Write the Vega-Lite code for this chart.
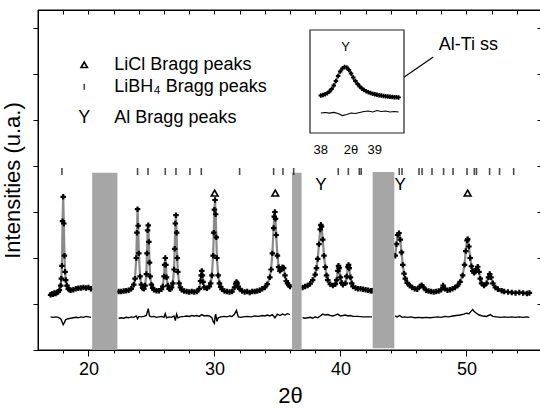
{
"$schema":"https://vega.github.io/schema/vega-lite/v6.json",
"width":504,"height":340,
"autosize":{"type":"none"},
"padding":{"left":38,"top":10,"right":0,"bottom":58},
"background":"white",
"config":{"view":{"stroke":"black","strokeWidth":1},"font":"Liberation Sans",
"axis":{"domainColor":"black","tickColor":"black","labelColor":"black","titleColor":"black","grid":false,"labelFont":"Liberation Sans","titleFont":"Liberation Sans","titleFontWeight":"normal","tickWidth":1}},
"datasets":{
"obs":[
{"x":17.0,"y":1.20,"g":1},{"x":17.1,"y":1.22,"g":1},{"x":17.2,"y":1.21,"g":1},{"x":17.3,"y":1.24,"g":1},{"x":17.4,"y":1.23,"g":1},{"x":17.5,"y":1.25,"g":1},{"x":17.6,"y":1.26,"g":1},{"x":17.7,"y":1.30,"g":1},{"x":17.8,"y":1.40,"g":1},{"x":17.85,"y":1.55,"g":1},{"x":17.9,"y":1.83,"g":1},{"x":17.95,"y":2.80,"g":1},{"x":18.0,"y":3.33,"g":1},{"x":18.05,"y":2.75,"g":1},{"x":18.1,"y":2.05,"g":1},{"x":18.15,"y":1.70,"g":1},{"x":18.2,"y":1.52,"g":1},{"x":18.3,"y":1.40,"g":1},{"x":18.4,"y":1.33,"g":1},{"x":18.5,"y":1.31,"g":1},{"x":18.6,"y":1.30,"g":1},{"x":18.8,"y":1.31,"g":1},{"x":19.0,"y":1.33,"g":1},{"x":19.2,"y":1.34,"g":1},{"x":19.4,"y":1.35,"g":1},{"x":19.6,"y":1.36,"g":1},{"x":19.8,"y":1.35,"g":1},{"x":20.0,"y":1.36,"g":1},{"x":20.2,"y":1.33,"g":1},
{"x":22.4,"y":1.27,"g":2},{"x":22.6,"y":1.27,"g":2},{"x":22.8,"y":1.28,"g":2},{"x":23.0,"y":1.29,"g":2},{"x":23.2,"y":1.30,"g":2},{"x":23.4,"y":1.33,"g":2},{"x":23.6,"y":1.42,"g":2},{"x":23.7,"y":1.55,"g":2},{"x":23.8,"y":2.00,"g":2},{"x":23.85,"y":2.55,"g":2},{"x":23.9,"y":3.06,"g":2},{"x":23.95,"y":2.70,"g":2},{"x":24.0,"y":2.10,"g":2},{"x":24.1,"y":1.60,"g":2},{"x":24.2,"y":1.42,"g":2},{"x":24.3,"y":1.35,"g":2},{"x":24.4,"y":1.33,"g":2},{"x":24.5,"y":1.40,"g":2},{"x":24.6,"y":1.65,"g":2},{"x":24.65,"y":2.10,"g":2},{"x":24.7,"y":2.60,"g":2},{"x":24.75,"y":2.71,"g":2},{"x":24.8,"y":2.35,"g":2},{"x":24.85,"y":1.90,"g":2},{"x":24.9,"y":1.60,"g":2},{"x":25.0,"y":1.42,"g":2},{"x":25.1,"y":1.35,"g":2},{"x":25.2,"y":1.31,"g":2},{"x":25.4,"y":1.29,"g":2},{"x":25.6,"y":1.29,"g":2},{"x":25.8,"y":1.32,"g":2},{"x":25.9,"y":1.38,"g":2},{"x":26.0,"y":1.60,"g":2},{"x":26.05,"y":1.85,"g":2},{"x":26.1,"y":2.00,"g":2},{"x":26.15,"y":1.85,"g":2},{"x":26.2,"y":1.58,"g":2},{"x":26.3,"y":1.40,"g":2},{"x":26.4,"y":1.33,"g":2},{"x":26.5,"y":1.32,"g":2},{"x":26.6,"y":1.36,"g":2},{"x":26.7,"y":1.45,"g":2},{"x":26.8,"y":1.75,"g":2},{"x":26.85,"y":2.20,"g":2},{"x":26.9,"y":2.75,"g":2},{"x":26.95,"y":2.93,"g":2},{"x":27.0,"y":2.55,"g":2},{"x":27.05,"y":2.00,"g":2},{"x":27.1,"y":1.70,"g":2},{"x":27.2,"y":1.45,"g":2},{"x":27.3,"y":1.36,"g":2},{"x":27.4,"y":1.31,"g":2},{"x":27.6,"y":1.28,"g":2},{"x":27.8,"y":1.27,"g":2},{"x":28.0,"y":1.26,"g":2},{"x":28.2,"y":1.27,"g":2},{"x":28.4,"y":1.26,"g":2},{"x":28.6,"y":1.27,"g":2},{"x":28.8,"y":1.33,"g":2},{"x":28.9,"y":1.50,"g":2},{"x":28.95,"y":1.62,"g":2},{"x":29.0,"y":1.72,"g":2},{"x":29.05,"y":1.62,"g":2},{"x":29.1,"y":1.48,"g":2},{"x":29.2,"y":1.36,"g":2},{"x":29.4,"y":1.34,"g":2},{"x":29.6,"y":1.38,"g":2},{"x":29.7,"y":1.45,"g":2},{"x":29.8,"y":1.62,"g":2},{"x":29.9,"y":2.05,"g":2},{"x":29.95,"y":2.55,"g":2},{"x":30.0,"y":3.05,"g":2},{"x":30.05,"y":3.26,"g":2},{"x":30.1,"y":2.95,"g":2},{"x":30.15,"y":2.45,"g":2},{"x":30.2,"y":2.00,"g":2},{"x":30.3,"y":1.62,"g":2},{"x":30.4,"y":1.45,"g":2},{"x":30.5,"y":1.37,"g":2},{"x":30.6,"y":1.32,"g":2},{"x":30.8,"y":1.28,"g":2},{"x":31.0,"y":1.27,"g":2},{"x":31.2,"y":1.26,"g":2},{"x":31.4,"y":1.27,"g":2},{"x":31.6,"y":1.36,"g":2},{"x":31.7,"y":1.44,"g":2},{"x":31.75,"y":1.48,"g":2},{"x":31.8,"y":1.45,"g":2},{"x":31.9,"y":1.38,"g":2},{"x":32.0,"y":1.33,"g":2},{"x":32.2,"y":1.28,"g":2},{"x":32.4,"y":1.26,"g":2},{"x":32.6,"y":1.27,"g":2},{"x":32.8,"y":1.25,"g":2},{"x":33.0,"y":1.27,"g":2},{"x":33.2,"y":1.27,"g":2},{"x":33.4,"y":1.28,"g":2},{"x":33.6,"y":1.30,"g":2},{"x":33.8,"y":1.33,"g":2},{"x":34.0,"y":1.36,"g":2},{"x":34.2,"y":1.43,"g":2},{"x":34.4,"y":1.58,"g":2},{"x":34.5,"y":1.75,"g":2},{"x":34.6,"y":2.10,"g":2},{"x":34.7,"y":2.65,"g":2},{"x":34.75,"y":2.90,"g":2},{"x":34.8,"y":3.00,"g":2},{"x":34.85,"y":2.85,"g":2},{"x":34.9,"y":2.50,"g":2},{"x":35.0,"y":2.05,"g":2},{"x":35.1,"y":1.80,"g":2},{"x":35.2,"y":1.72,"g":2},{"x":35.3,"y":1.75,"g":2},{"x":35.4,"y":1.80,"g":2},{"x":35.5,"y":1.78,"g":2},{"x":35.6,"y":1.62,"g":2},{"x":35.7,"y":1.50,"g":2},{"x":35.8,"y":1.45,"g":2},{"x":35.9,"y":1.41,"g":2},{"x":36.0,"y":1.38,"g":2},
{"x":37.0,"y":1.36,"g":3},{"x":37.2,"y":1.38,"g":3},{"x":37.4,"y":1.40,"g":3},{"x":37.6,"y":1.44,"g":3},{"x":37.8,"y":1.52,"g":3},{"x":38.0,"y":1.64,"g":3},{"x":38.1,"y":1.78,"g":3},{"x":38.2,"y":1.98,"g":3},{"x":38.3,"y":2.30,"g":3},{"x":38.4,"y":2.62,"g":3},{"x":38.45,"y":2.72,"g":3},{"x":38.5,"y":2.68,"g":3},{"x":38.6,"y":2.40,"g":3},{"x":38.7,"y":2.05,"g":3},{"x":38.8,"y":1.80,"g":3},{"x":38.9,"y":1.62,"g":3},{"x":39.0,"y":1.52,"g":3},{"x":39.2,"y":1.43,"g":3},{"x":39.4,"y":1.40,"g":3},{"x":39.6,"y":1.43,"g":3},{"x":39.7,"y":1.52,"g":3},{"x":39.8,"y":1.72,"g":3},{"x":39.85,"y":1.83,"g":3},{"x":39.9,"y":1.78,"g":3},{"x":40.0,"y":1.58,"g":3},{"x":40.1,"y":1.46,"g":3},{"x":40.2,"y":1.42,"g":3},{"x":40.4,"y":1.45,"g":3},{"x":40.5,"y":1.60,"g":3},{"x":40.6,"y":1.80,"g":3},{"x":40.65,"y":1.85,"g":3},{"x":40.7,"y":1.78,"g":3},{"x":40.8,"y":1.58,"g":3},{"x":40.9,"y":1.45,"g":3},{"x":41.0,"y":1.38,"g":3},{"x":41.2,"y":1.35,"g":3},{"x":41.4,"y":1.33,"g":3},{"x":41.6,"y":1.33,"g":3},{"x":41.8,"y":1.32,"g":3},{"x":42.0,"y":1.31,"g":3},{"x":42.2,"y":1.30,"g":3},{"x":42.4,"y":1.29,"g":3},{"x":42.5,"y":1.29,"g":3},
{"x":44.35,"y":2.05,"g":4},{"x":44.45,"y":2.30,"g":4},{"x":44.55,"y":2.50,"g":4},{"x":44.65,"y":2.54,"g":4},{"x":44.75,"y":2.40,"g":4},{"x":44.85,"y":2.12,"g":4},{"x":44.95,"y":1.85,"g":4},{"x":45.05,"y":1.66,"g":4},{"x":45.15,"y":1.55,"g":4},{"x":45.3,"y":1.46,"g":4},{"x":45.5,"y":1.40,"g":4},{"x":45.7,"y":1.36,"g":4},{"x":45.9,"y":1.33,"g":4},{"x":46.1,"y":1.32,"g":4},{"x":46.3,"y":1.38,"g":4},{"x":46.45,"y":1.41,"g":4},{"x":46.6,"y":1.36,"g":4},{"x":46.8,"y":1.30,"g":4},{"x":47.0,"y":1.28,"g":4},{"x":47.2,"y":1.27,"g":4},{"x":47.4,"y":1.26,"g":4},{"x":47.6,"y":1.27,"g":4},{"x":47.8,"y":1.28,"g":4},{"x":48.0,"y":1.31,"g":4},{"x":48.15,"y":1.40,"g":4},{"x":48.3,"y":1.33,"g":4},{"x":48.5,"y":1.30,"g":4},{"x":48.7,"y":1.31,"g":4},{"x":48.9,"y":1.33,"g":4},{"x":49.1,"y":1.36,"g":4},{"x":49.3,"y":1.40,"g":4},{"x":49.5,"y":1.48,"g":4},{"x":49.7,"y":1.62,"g":4},{"x":49.85,"y":1.85,"g":4},{"x":49.95,"y":2.15,"g":4},{"x":50.05,"y":2.38,"g":4},{"x":50.1,"y":2.41,"g":4},{"x":50.2,"y":2.25,"g":4},{"x":50.3,"y":2.00,"g":4},{"x":50.4,"y":1.82,"g":4},{"x":50.5,"y":1.72,"g":4},{"x":50.6,"y":1.68,"g":4},{"x":50.7,"y":1.70,"g":4},{"x":50.8,"y":1.76,"g":4},{"x":50.9,"y":1.81,"g":4},{"x":51.0,"y":1.70,"g":4},{"x":51.1,"y":1.55,"g":4},{"x":51.2,"y":1.45,"g":4},{"x":51.4,"y":1.40,"g":4},{"x":51.6,"y":1.45,"g":4},{"x":51.75,"y":1.58,"g":4},{"x":51.85,"y":1.65,"g":4},{"x":51.95,"y":1.58,"g":4},{"x":52.1,"y":1.45,"g":4},{"x":52.3,"y":1.36,"g":4},{"x":52.5,"y":1.32,"g":4},{"x":52.8,"y":1.29,"g":4},{"x":53.0,"y":1.27,"g":4},{"x":53.3,"y":1.26,"g":4},{"x":53.6,"y":1.25,"g":4},{"x":53.9,"y":1.24,"g":4},{"x":54.2,"y":1.25,"g":4},{"x":54.5,"y":1.24,"g":4},{"x":54.8,"y":1.23,"g":4},{"x":55.0,"y":1.24,"g":4}
],
"diff":[
{"x":17.0,"y":0.72,"g":1},{"x":17.2,"y":0.71,"g":1},{"x":17.4,"y":0.72,"g":1},{"x":17.6,"y":0.71,"g":1},{"x":17.8,"y":0.68,"g":1},{"x":17.9,"y":0.62,"g":1},{"x":18.0,"y":0.55,"g":1},{"x":18.1,"y":0.60,"g":1},{"x":18.2,"y":0.66,"g":1},{"x":18.4,"y":0.68,"g":1},{"x":18.6,"y":0.69,"g":1},{"x":18.8,"y":0.70,"g":1},{"x":19.0,"y":0.71,"g":1},{"x":19.2,"y":0.70,"g":1},{"x":19.4,"y":0.72,"g":1},{"x":19.6,"y":0.71,"g":1},{"x":19.8,"y":0.73,"g":1},{"x":20.0,"y":0.72,"g":1},{"x":20.2,"y":0.71,"g":1},
{"x":22.4,"y":0.69,"g":2},{"x":22.6,"y":0.70,"g":2},{"x":22.8,"y":0.69,"g":2},{"x":23.0,"y":0.71,"g":2},{"x":23.2,"y":0.70,"g":2},{"x":23.4,"y":0.72,"g":2},{"x":23.6,"y":0.71,"g":2},{"x":23.8,"y":0.74,"g":2},{"x":23.9,"y":0.68,"g":2},{"x":24.0,"y":0.73,"g":2},{"x":24.2,"y":0.72,"g":2},{"x":24.4,"y":0.73,"g":2},{"x":24.6,"y":0.75,"g":2},{"x":24.75,"y":0.90,"g":2},{"x":24.85,"y":0.74,"g":2},{"x":25.0,"y":0.72,"g":2},{"x":25.2,"y":0.73,"g":2},{"x":25.4,"y":0.71,"g":2},{"x":25.6,"y":0.72,"g":2},{"x":25.8,"y":0.73,"g":2},{"x":26.0,"y":0.71,"g":2},{"x":26.1,"y":0.79,"g":2},{"x":26.2,"y":0.70,"g":2},{"x":26.4,"y":0.72,"g":2},{"x":26.6,"y":0.71,"g":2},{"x":26.8,"y":0.74,"g":2},{"x":26.9,"y":0.64,"g":2},{"x":27.0,"y":0.78,"g":2},{"x":27.1,"y":0.70,"g":2},{"x":27.3,"y":0.72,"g":2},{"x":27.6,"y":0.73,"g":2},{"x":27.8,"y":0.74,"g":2},{"x":28.0,"y":0.73,"g":2},{"x":28.2,"y":0.75,"g":2},{"x":28.4,"y":0.74,"g":2},{"x":28.6,"y":0.75,"g":2},{"x":28.8,"y":0.73,"g":2},{"x":29.0,"y":0.77,"g":2},{"x":29.2,"y":0.74,"g":2},{"x":29.4,"y":0.75,"g":2},{"x":29.6,"y":0.74,"g":2},{"x":29.8,"y":0.70,"g":2},{"x":29.9,"y":0.62,"g":2},{"x":30.0,"y":0.58,"g":2},{"x":30.05,"y":0.72,"g":2},{"x":30.1,"y":0.78,"g":2},{"x":30.2,"y":0.62,"g":2},{"x":30.3,"y":0.70,"g":2},{"x":30.5,"y":0.72,"g":2},{"x":30.8,"y":0.73,"g":2},{"x":31.0,"y":0.72,"g":2},{"x":31.2,"y":0.74,"g":2},{"x":31.4,"y":0.73,"g":2},{"x":31.6,"y":0.78,"g":2},{"x":31.75,"y":0.86,"g":2},{"x":31.9,"y":0.72,"g":2},{"x":32.1,"y":0.71,"g":2},{"x":32.3,"y":0.72,"g":2},{"x":32.6,"y":0.73,"g":2},{"x":32.9,"y":0.72,"g":2},{"x":33.2,"y":0.74,"g":2},{"x":33.5,"y":0.73,"g":2},{"x":33.8,"y":0.75,"g":2},{"x":34.0,"y":0.74,"g":2},{"x":34.2,"y":0.76,"g":2},{"x":34.4,"y":0.74,"g":2},{"x":34.6,"y":0.77,"g":2},{"x":34.8,"y":0.70,"g":2},{"x":35.0,"y":0.78,"g":2},{"x":35.2,"y":0.75,"g":2},{"x":35.4,"y":0.78,"g":2},{"x":35.6,"y":0.76,"g":2},{"x":35.8,"y":0.79,"g":2},{"x":36.0,"y":0.77,"g":2},
{"x":37.0,"y":0.70,"g":3},{"x":37.2,"y":0.69,"g":3},{"x":37.4,"y":0.70,"g":3},{"x":37.6,"y":0.71,"g":3},{"x":37.8,"y":0.69,"g":3},{"x":38.0,"y":0.72,"g":3},{"x":38.2,"y":0.70,"g":3},{"x":38.4,"y":0.74,"g":3},{"x":38.6,"y":0.78,"g":3},{"x":38.8,"y":0.76,"g":3},{"x":39.0,"y":0.77,"g":3},{"x":39.2,"y":0.75,"g":3},{"x":39.4,"y":0.74,"g":3},{"x":39.6,"y":0.76,"g":3},{"x":39.8,"y":0.78,"g":3},{"x":40.0,"y":0.74,"g":3},{"x":40.2,"y":0.75,"g":3},{"x":40.4,"y":0.76,"g":3},{"x":40.6,"y":0.74,"g":3},{"x":40.8,"y":0.75,"g":3},{"x":41.0,"y":0.73,"g":3},{"x":41.4,"y":0.73,"g":3},{"x":41.8,"y":0.72,"g":3},{"x":42.2,"y":0.72,"g":3},{"x":42.5,"y":0.72,"g":3},
{"x":44.35,"y":0.74,"g":4},{"x":44.5,"y":0.72,"g":4},{"x":44.7,"y":0.75,"g":4},{"x":44.9,"y":0.71,"g":4},{"x":45.1,"y":0.72,"g":4},{"x":45.3,"y":0.71,"g":4},{"x":45.6,"y":0.72,"g":4},{"x":45.9,"y":0.70,"g":4},{"x":46.2,"y":0.71,"g":4},{"x":46.5,"y":0.70,"g":4},{"x":46.8,"y":0.71,"g":4},{"x":47.1,"y":0.70,"g":4},{"x":47.4,"y":0.71,"g":4},{"x":47.7,"y":0.72,"g":4},{"x":48.0,"y":0.71,"g":4},{"x":48.3,"y":0.73,"g":4},{"x":48.6,"y":0.72,"g":4},{"x":48.9,"y":0.74,"g":4},{"x":49.2,"y":0.75,"g":4},{"x":49.5,"y":0.76,"g":4},{"x":49.8,"y":0.78,"g":4},{"x":50.0,"y":0.80,"g":4},{"x":50.2,"y":0.79,"g":4},{"x":50.4,"y":0.85,"g":4},{"x":50.5,"y":0.88,"g":4},{"x":50.6,"y":0.84,"g":4},{"x":50.8,"y":0.80,"g":4},{"x":51.0,"y":0.76,"g":4},{"x":51.3,"y":0.74,"g":4},{"x":51.6,"y":0.73,"g":4},{"x":51.9,"y":0.77,"g":4},{"x":52.1,"y":0.73,"g":4},{"x":52.4,"y":0.72,"g":4},{"x":52.7,"y":0.71,"g":4},{"x":53.0,"y":0.72,"g":4},{"x":53.3,"y":0.71,"g":4},{"x":53.6,"y":0.72,"g":4},{"x":53.9,"y":0.71,"g":4},{"x":54.2,"y":0.72,"g":4},{"x":54.5,"y":0.71,"g":4},{"x":54.8,"y":0.72,"g":4},{"x":55.0,"y":0.71,"g":4}
],
"bands":[{"a":20.3,"b":22.3,"t":3.85,"lo":0},{"a":36.16,"b":36.92,"t":3.85,"lo":0},{"a":42.56,"b":44.28,"t":3.87,"lo":0.04}],
"lib":[{"x":17.9},{"x":23.9},{"x":24.73},{"x":26.1},{"x":26.95},{"x":28.06},{"x":28.96},{"x":32.0},{"x":34.7},{"x":35.44},{"x":36.29},{"x":39.83},{"x":40.63},{"x":41.5},{"x":41.65},{"x":44.67},{"x":44.89},{"x":46.24},{"x":46.48},{"x":47.27},{"x":48.19},{"x":48.94},{"x":50.05},{"x":50.63},{"x":50.8},{"x":51.84},{"x":52.63},{"x":53.75}],
"licl":[{"x":30.02},{"x":34.83},{"x":50.1}],
"al":[{"x":38.46},{"x":44.75}],
"ins":[{"x":38.00,"y":37.5},{"x":38.04,"y":38.0},{"x":38.08,"y":38.8},{"x":38.12,"y":39.8},{"x":38.16,"y":41.5},{"x":38.20,"y":44.0},{"x":38.24,"y":47.5},{"x":38.28,"y":52.0},{"x":38.32,"y":57.0},{"x":38.36,"y":61.5},{"x":38.40,"y":64.5},{"x":38.44,"y":66.0},{"x":38.48,"y":65.5},{"x":38.52,"y":63.0},{"x":38.56,"y":59.5},{"x":38.60,"y":55.5},{"x":38.64,"y":52.0},{"x":38.68,"y":49.0},{"x":38.72,"y":46.5},{"x":38.76,"y":44.5},{"x":38.80,"y":43.0},{"x":38.84,"y":41.8},{"x":38.88,"y":40.8},{"x":38.92,"y":40.0},{"x":38.96,"y":39.3},{"x":39.00,"y":38.7},{"x":39.04,"y":38.2},{"x":39.08,"y":37.8},{"x":39.12,"y":37.4},{"x":39.16,"y":37.0},{"x":39.20,"y":36.7},{"x":39.24,"y":36.4},{"x":39.28,"y":36.2},{"x":39.32,"y":36.0},{"x":39.36,"y":35.8},{"x":39.40,"y":35.7},{"x":39.44,"y":35.6}],
"insd":[{"x":38.00,"y":20.0},{"x":38.08,"y":20.5},{"x":38.16,"y":19.8},{"x":38.24,"y":20.6},{"x":38.32,"y":19.5},{"x":38.40,"y":17.5},{"x":38.48,"y":18.5},{"x":38.56,"y":20.0},{"x":38.64,"y":19.5},{"x":38.72,"y":20.5},{"x":38.80,"y":21.5},{"x":38.88,"y":22.0},{"x":38.96,"y":21.0},{"x":39.04,"y":22.5},{"x":39.12,"y":21.5},{"x":39.20,"y":22.0},{"x":39.28,"y":21.0},{"x":39.36,"y":21.5},{"x":39.44,"y":21.0}]
},
"layer":[
{"layer":[
{"data":{"values":[{"a":16,"b":56,"c":0,"d":7.39}]},"mark":{"type":"rect","fill":"white","fillOpacity":0,"stroke":"black","strokeWidth":1},
"encoding":{"x":{"field":"a","type":"quantitative","axis":null},"x2":{"field":"b"},"y":{"field":"c","type":"quantitative","axis":null},"y2":{"field":"d"}}},
{"data":{"name":"obs"},"mark":{"type":"line","color":"#8a8a8a","strokeWidth":2.2},
"encoding":{
"x":{"field":"x","type":"quantitative","scale":{"domain":[16,56],"nice":false,"zero":false},
"axis":{"orient":"bottom","values":[18,20,22,24,26,28,30,32,34,36,38,40,42,44,46,48,50,52,54],"tickSize":{"condition":{"test":"datum.value % 10 === 0","value":6},"value":3},"labelExpr":"datum.value % 10 === 0 ? datum.label : ''","labelOverlap":false,"labelFontSize":18,"labelPadding":4,"title":"2θ","titleFontSize":22,"titlePadding":7}},
"y":{"field":"y","type":"quantitative","scale":{"domain":[0,7.39],"nice":false,"zero":false},
"axis":{"orient":"left","values":[0,1,2,3,4,5,6,7],"tickSize":5,"labels":false,"title":"Intensities (u.a.)","titleFontSize":22,"titlePadding":8}},
"detail":{"field":"g"}}},
{"data":{"name":"obs"},"mark":{"type":"point","shape":"cross","filled":true,"color":"black","size":30,"opacity":1},
"encoding":{
"x":{"field":"x","type":"quantitative","axis":{"orient":"top","values":[18,20,22,24,26,28,30,32,34,36,38,40,42,44,46,48,50,52,54],"tickSize":-4,"labels":false,"domain":true,"ticks":true,"title":null}},
"y":{"field":"y","type":"quantitative","axis":{"orient":"right","values":[1,2,3,4,5,6,7],"tickSize":-5,"labels":false,"title":null}}}},
{"data":{"name":"diff"},"mark":{"type":"line","color":"black","strokeWidth":1.4},
"encoding":{"x":{"field":"x","type":"quantitative","axis":null},"y":{"field":"y","type":"quantitative","axis":null},"detail":{"field":"g"}}},
{"data":{"name":"bands"},"mark":{"type":"rect","color":"#a6a6a6"},
"encoding":{"x":{"field":"a","type":"quantitative","axis":null},"x2":{"field":"b"},"y":{"field":"t","type":"quantitative","axis":null},"y2":{"field":"lo"}}},
{"data":{"name":"lib"},"mark":{"type":"tick","orient":"vertical","color":"black","size":7,"thickness":1.6},
"encoding":{"x":{"field":"x","type":"quantitative","axis":null},"y":{"datum":3.88,"type":"quantitative","axis":null}}},
{"data":{"name":"licl"},"mark":{"type":"point","shape":"triangle-up","filled":false,"color":"black","strokeWidth":1.6,"size":45,"opacity":1},
"encoding":{"x":{"field":"x","type":"quantitative","axis":null},"y":{"datum":3.41,"type":"quantitative","axis":null}}},
{"data":{"name":"al"},"mark":{"type":"text","text":"Y","fontSize":17,"color":"black"},
"encoding":{"x":{"field":"x","type":"quantitative","axis":null},"y":{"datum":3.59,"type":"quantitative","axis":null}}},
{"data":{"values":[{"x":19.67,"y":6.2}]},"mark":{"type":"point","shape":"triangle-up","filled":false,"color":"black","strokeWidth":1.6,"size":40,"opacity":1},
"encoding":{"x":{"field":"x","type":"quantitative","axis":null},"y":{"field":"y","type":"quantitative","axis":null}}},
{"data":{"values":[{"x":19.67,"y":5.72}]},"mark":{"type":"tick","orient":"vertical","color":"black","size":6,"thickness":1.6},
"encoding":{"x":{"field":"x","type":"quantitative","axis":null},"y":{"field":"y","type":"quantitative","axis":null}}},
{"data":{"values":[{"x":19.67,"y":5.04}]},"mark":{"type":"text","text":"Y","fontSize":18,"color":"black"},
"encoding":{"x":{"field":"x","type":"quantitative","axis":null},"y":{"field":"y","type":"quantitative","axis":null}}},
{"data":{"values":[{"x":22.06,"y":6.2,"t":"LiCl Bragg peaks"},{"x":22.06,"y":5.72,"t":"LiBH₄ Bragg peaks"},{"x":22.06,"y":5.04,"t":"Al Bragg peaks"}]},
"mark":{"type":"text","align":"left","baseline":"middle","fontSize":18,"color":"black"},
"encoding":{"x":{"field":"x","type":"quantitative","axis":null},"y":{"field":"y","type":"quantitative","axis":null},"text":{"field":"t"}}},
{"data":{"values":[{"x":47.37,"y":6.37,"x2":43.80,"y2":5.696},{"x":43.80,"y":5.696,"x2":44.75,"y2":5.783},{"x":43.80,"y":5.696,"x2":44.43,"y2":5.913}]},
"mark":{"type":"rule","color":"black","strokeWidth":1.2},
"encoding":{"x":{"field":"x","type":"quantitative","axis":null},"y":{"field":"y","type":"quantitative","axis":null},"x2":{"field":"x2"},"y2":{"field":"y2"}}},
{"data":{"values":[{"x":50.16,"y":6.63,"t":"Al-Ti ss"}]},"mark":{"type":"text","fontSize":18,"color":"black","baseline":"middle"},
"encoding":{"x":{"field":"x","type":"quantitative","axis":null},"y":{"field":"y","type":"quantitative","axis":null},"text":{"field":"t"}}}
],
"resolve":{"axis":{"x":"independent","y":"independent"}}},
{"encoding":{
"x":{"field":"x","type":"quantitative","scale":{"domain":[37.8,39.54],"range":[272,366],"nice":false,"zero":false},"axis":null},
"y":{"field":"y","type":"quantitative","scale":{"domain":[0,103],"range":[123,20],"nice":false,"zero":false},"axis":null}},
"layer":[
{"data":{"values":[{"x":37.8,"x2":39.54,"y":0,"y2":103}]},"mark":{"type":"rect","fill":"white","stroke":"#222","strokeWidth":1.2},
"encoding":{"x2":{"field":"x2"},"y2":{"field":"y2"}}},
{"data":{"name":"ins"},"mark":{"type":"line","color":"#8a8a8a","strokeWidth":2}},
{"data":{"name":"ins"},"mark":{"type":"point","shape":"cross","filled":true,"color":"black","size":20,"opacity":1}},
{"data":{"name":"insd"},"mark":{"type":"line","color":"black","strokeWidth":1.2}},
{"data":{"values":[{"x":38.0},{"x":38.2},{"x":38.4},{"x":38.6},{"x":38.8},{"x":39.0},{"x":39.2},{"x":39.4}]},"mark":{"type":"rule","color":"#222","strokeWidth":1},
"encoding":{"y":{"datum":0},"y2":{"datum":3}}},
{"data":{"values":[{"y":38},{"y":73}]},"mark":{"type":"rule","color":"#222","strokeWidth":1},
"encoding":{"x":{"datum":37.8},"x2":{"datum":37.86}}},
{"data":{"values":[{"x":38.46,"y":86.5,"t":"Y"},{"x":38.0,"y":-17,"t":"38"},{"x":38.56,"y":-17,"t":"2θ"},{"x":39.0,"y":-17,"t":"39"}]},
"mark":{"type":"text","fontSize":13,"color":"black","baseline":"middle"},
"encoding":{"text":{"field":"t"}}}
]}
],
"resolve":{"scale":{"x":"independent","y":"independent"}}
}
